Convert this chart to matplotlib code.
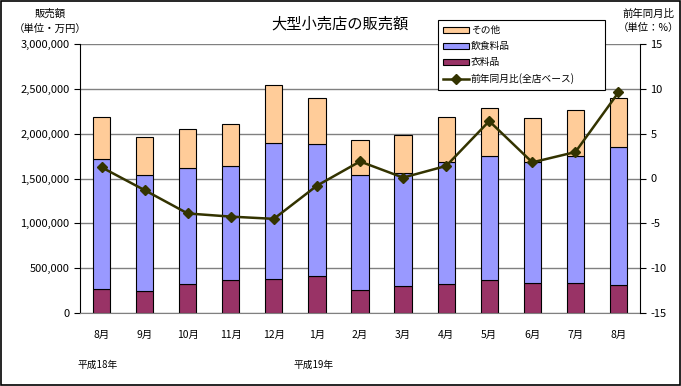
import matplotlib
matplotlib.use('Agg')
import matplotlib.pyplot as plt
import numpy as np
from matplotlib.patches import Rectangle
from matplotlib.ticker import FuncFormatter

plt.rcParams['font.family'] = ['Noto Sans CJK JP', 'DejaVu Sans']
plt.rcParams['axes.unicode_minus'] = False

# 月ごとのデータ（万円）
months = ['8月', '9月', '10月', '11月', '12月', '1月', '2月', '3月', '4月', '5月', '6月', '7月', '8月']
clothing = [264000, 242000, 320000, 364000, 376000, 409000, 253000, 298000, 320000, 365000, 331000, 331000, 309000]
food = [1450000, 1300000, 1294000, 1272000, 1516000, 1472000, 1283000, 1260000, 1361000, 1383000, 1350000, 1417000, 1539000]
other = [469000, 417000, 435000, 472000, 647000, 513000, 390000, 424000, 502000, 535000, 490000, 513000, 546000]
yoy = [1.25, -1.3, -3.9, -4.25, -4.5, -0.8, 1.9, 0.1, 1.4, 6.4, 1.8, 2.95, 9.6]

fig = plt.figure(figsize=(6.81, 3.86), dpi=100)
ax = fig.add_axes([80 / 681, 73 / 386, 560 / 681, 269 / 386])
x = np.arange(len(months))
w = 0.4
clothing = np.array(clothing)
food = np.array(food)
other = np.array(other)

b1 = ax.bar(x, clothing, w, color='#993366', edgecolor='black', linewidth=0.8, label='衣料品', zorder=2)
b2 = ax.bar(x, food, w, bottom=clothing, color='#9999FF', edgecolor='black', linewidth=0.8, label='飲食料品', zorder=2)
b3 = ax.bar(x, other, w, bottom=clothing + food, color='#FFCC99', edgecolor='black', linewidth=0.8, label='その他', zorder=2)

ax.set_xlim(-0.5, len(months) - 0.5)
ax.set_ylim(0, 3000000)
ax.set_yticks(np.arange(0, 3000001, 500000))
ax.yaxis.set_major_formatter(FuncFormatter(lambda v, p: '{:,.0f}'.format(v)))
ax.grid(axis='y', color='#808080', linewidth=1, zorder=0)
ax.set_axisbelow(True)
ax.set_xticks(x)
ax.set_xticklabels(months, fontsize=7.5)
ax.tick_params(axis='x', length=0, pad=12)
ax.tick_params(axis='y', labelsize=8, length=4, width=0.8, direction='out')
for s in ['top', 'right']:
    ax.spines[s].set_visible(False)
ax.spines['bottom'].set_color('#808080')
ax.spines['left'].set_linewidth(0.8)

ax2 = ax.twinx()
ln, = ax2.plot(x, yoy, color='#333300', linewidth=1.8, marker='D', markersize=5,
               markerfacecolor='#333300', markeredgecolor='#333300', label='前年同月比(全店ベース)')
ax2.set_ylim(-15, 15)
ax2.set_yticks(np.arange(-15, 16, 5))
ax2.tick_params(axis='y', labelsize=8, length=4, width=0.8, direction='out')
for s in ['top', 'left', 'bottom']:
    ax2.spines[s].set_visible(False)
ax2.spines['right'].set_linewidth(0.8)

fig.text(340 / 681, 1 - 24 / 386, '大型小売店の販売額', ha='center', va='center', fontsize=11)
fig.text(50 / 681, 1 - 14 / 386, '販売額', ha='center', va='center', fontsize=7.5)
fig.text(50 / 681, 1 - 29 / 386, '（単位・万円）', ha='center', va='center', fontsize=7.5)
fig.text(648 / 681, 1 - 14 / 386, '前年同月比', ha='center', va='center', fontsize=7.5)
fig.text(648 / 681, 1 - 28 / 386, '（単位：%）', ha='center', va='center', fontsize=7.5)
fig.text(77 / 681, 1 - 365 / 386, '平成18年', ha='left', va='center', fontsize=7)
fig.text(293 / 681, 1 - 365 / 386, '平成19年', ha='left', va='center', fontsize=7)

leg = fig.legend([b3, b2, b1, ln], ['その他', '飲食料品', '衣料品', '前年同月比(全店ベース)'],
                 loc='upper left', bbox_to_anchor=(438 / 681, 1 - 88 / 386, 167 / 681, 68 / 386),
                 mode='expand', fontsize=7, frameon=True, fancybox=False, framealpha=1,
                 edgecolor='black', handlelength=2.6, handleheight=0.6, labelspacing=0.62,
                 borderpad=0.55, handletextpad=0.2, borderaxespad=0)
leg.get_frame().set_linewidth(0.8)

fig.patches.append(Rectangle((0.001, 0.002), 0.997, 0.996, transform=fig.transFigure,
                             fill=False, edgecolor='black', linewidth=1.2))

fig.savefig('out.png', dpi=100)
